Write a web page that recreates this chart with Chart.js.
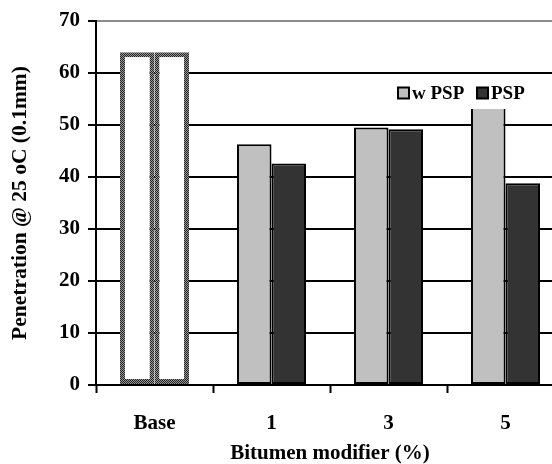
<!DOCTYPE html>
<html lang="en">
<head>
<meta charset="UTF-8">
<title>Penetration</title>
<script src="https://cdn.jsdelivr.net/npm/chart.js"></script>
<style>
  body {
    margin: 0;
    padding: 0;
    background: #ffffff;
    overflow: hidden;
  }
  #wrap {
    width: 552px;
    height: 464px;
    overflow: hidden;
  }
</style>
</head>
<body>
<div id="wrap">
  <canvas id="chart" width="568" height="464"></canvas>
</div>
<script>
// data
const categories = ['Base', '1', '3', '5'];
const wPSP = [64, 46.3, 49.5, 55];
const PSP = [64, 42.6, 49.2, 38.8];
const yTicks = [0, 10, 20, 30, 40, 50, 60, 70];

const serif = '"Liberation Serif", "Times New Roman", serif';

// checkered border used for the base bars
const pc = document.createElement('canvas');
pc.width = 2;
pc.height = 2;
const pctx = pc.getContext('2d');
pctx.fillStyle = '#9a9a9a';
pctx.fillRect(0, 0, 2, 2);
pctx.fillStyle = '#222222';
pctx.fillRect(0, 0, 1, 1);
pctx.fillRect(1, 1, 1, 1);
const checker = document.getElementById('chart').getContext('2d').createPattern(pc, 'repeat');

function fills(color) {
  return categories.map((c, i) => i === 0 ? '#ffffff' : color);
}
function borders() {
  return categories.map((c, i) => i === 0 ? checker : '#000000');
}
function widths() {
  return categories.map((c, i) => i === 0 ? 5 : 2);
}

// legend box drawn on top of the bars, like the original
const boxLegend = {
  id: 'boxLegend',
  afterDatasetsDraw(chart) {
    const ctx = chart.ctx;
    ctx.save();
    ctx.fillStyle = '#ffffff';
    ctx.fillRect(392, 78, 142, 31);
    ctx.font = 'bold 19px ' + serif;
    ctx.textBaseline = 'middle';
    ctx.textAlign = 'left';
    const spots = [398, 477];
    chart.data.datasets.forEach((ds, i) => {
      const x = spots[i];
      const y = 93;
      ctx.fillStyle = ds.legendFill;
      ctx.fillRect(x, y - 5.5, 11, 11);
      ctx.strokeStyle = '#000000';
      ctx.lineWidth = 2;
      ctx.strokeRect(x, y - 5.5, 11, 11);
      ctx.fillStyle = '#000000';
      ctx.fillText(ds.label, x + 14, y + 1);
    });
    ctx.restore();
  }
};

const ctx = document.getElementById('chart').getContext('2d');

new Chart(ctx, {
  type: 'bar',
  data: {
    labels: categories,
    datasets: [
      {
        label: 'w PSP',
        data: wPSP,
        backgroundColor: fills('#c0c0c0'),
        borderColor: borders(),
        borderWidth: widths(),
        borderSkipped: false,
        legendFill: '#c0c0c0',
        categoryPercentage: 0.59,
        barPercentage: 1.0
      },
      {
        label: 'PSP',
        data: PSP,
        backgroundColor: fills('#333333'),
        borderColor: borders(),
        borderWidth: widths(),
        borderSkipped: false,
        legendFill: '#333333',
        categoryPercentage: 0.59,
        barPercentage: 1.0
      }
    ]
  },
  options: {
    responsive: false,
    animation: false,
    layout: {
      padding: { top: 21, right: 4, bottom: 0, left: 0 }
    },
    plugins: {
      legend: { display: false },
      tooltip: { enabled: false }
    },
    scales: {
      x: {
        afterFit: function(scale) { scale.height = 79; },
        grid: {
          display: true,
          drawOnChartArea: false,
          drawTicks: true,
          tickLength: 8,
          tickColor: '#000000',
          tickWidth: 2,
          offset: true
        },
        border: { display: true, color: '#000000', width: 2 },
        ticks: {
          color: '#000000',
          padding: 18,
          font: { family: serif, size: 21, weight: 'bold' }
        },
        title: {
          display: true,
          text: 'Bitumen modifier (%)',
          color: '#000000',
          padding: { top: 0, bottom: 0 },
          font: { family: serif, size: 21, weight: 'bold', lineHeight: 1.0 }
        }
      },
      y: {
        min: 0,
        max: 70,
        afterFit: function(scale) { scale.width = 96; },
        afterBuildTicks: function(scale) {
          scale.ticks = yTicks.map(v => ({ value: v }));
        },
        grid: {
          color: function(c) { return c.tick && c.tick.value === 70 ? '#8c8c8c' : '#000000'; },
          lineWidth: 2,
          tickLength: 8,
          tickColor: '#000000',
          tickWidth: 2
        },
        border: { display: true, color: '#000000', width: 2 },
        ticks: {
          color: '#000000',
          padding: 8,
          font: { family: serif, size: 21, weight: 'bold' }
        },
        title: {
          display: true,
          text: 'Penetration @ 25 oC (0.1mm)',
          color: '#000000',
          padding: { top: 10, bottom: 0 },
          font: { family: serif, size: 21.5, weight: 'bold', lineHeight: 1.0 }
        }
      }
    }
  },
  plugins: [boxLegend]
});
</script>
</body>
</html>
